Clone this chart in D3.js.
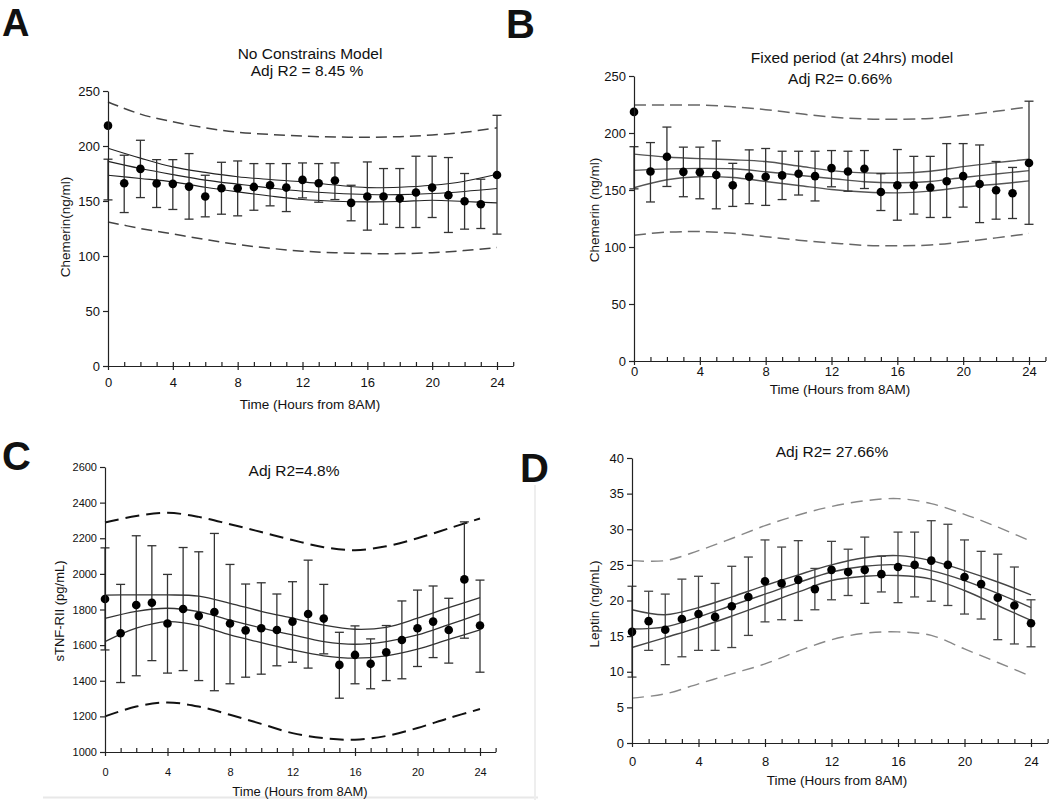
<!DOCTYPE html>
<html><head><meta charset="utf-8">
<script src="https://cdn.jsdelivr.net/npm/d3@7"></script>
<style>body{margin:0;background:#fff} text{font-family:"Liberation Sans",Arial,sans-serif;fill:#111}</style>
</head><body><svg id="c" width="1050" height="800"></svg>
<script>
// ---------- data ----------
const hours = [0,1,2,3,4,5,6,7,8,9,10,11,12,13,14,15,16,17,18,19,20,21,22,23,24];
const fitHours = [0,2,4,6,8,10,12,14,16,18,20,22,24];
const majorTicks = [0,4,8,12,16,20,24];
const minorTicks = [1,2,3,4,5,6,7,8,9,10,11,12,13,14,15,16,17,18,19,20,21,22,23,24,25];

const chemMean = [218.5,166.2,179.2,165.9,165.6,163.1,154.1,161.6,161.6,162.8,164.3,162.2,169.2,166.2,168.6,148.3,154.1,154.1,152.2,157.7,162.2,155.3,149.8,147.1,173.7];
const chemHi   = [188,191.6,205.2,187.6,187.6,193.1,173.4,185.2,186.4,184,184,184,184.6,184,184.6,164.3,185.5,179.5,179.5,190.7,190.7,189.5,175,169.8,227.9];
const chemLo   = [151,139.5,153.1,144.1,142.3,133.5,135.6,138,136.5,141.6,145.6,140.4,152.8,148.9,151.3,132,123.5,128.9,125.9,125.9,135,121.4,124.4,125,119.9];

const tnfMean = [1859,1667,1825,1838,1721,1803,1764,1786,1721,1683,1695,1685,1732,1775,1749,1489,1545,1495,1560,1629,1695,1732,1685,1969,1710];
const tnfHi   = [2146,1941,2214,2158,1997,2148,2124,2227,2053,1943,1950,1887,1956,2077,1941,1672,1708,1635,1710,1848,1909,1932,1863,2292,1965];
const tnfLo   = [1573,1390,1428,1513,1443,1457,1401,1344,1383,1420,1437,1484,1504,1471,1551,1302,1383,1355,1401,1411,1480,1530,1499,1639,1448];

const leptinMean = [15.6,17.1,15.9,17.4,18.1,17.7,19.2,20.5,22.7,22.4,22.9,21.6,24.3,24.0,24.3,23.7,24.7,25.0,25.6,25.0,23.3,22.3,20.4,19.3,16.8];
const leptinHi   = [22.0,21.3,20.9,23.0,23.4,22.4,24.8,26.1,28.5,27.5,28.4,24.5,28.3,27.2,28.9,26.2,29.6,29.6,31.2,30.7,28.5,26.9,26.5,24.7,20.1];
const leptinLo   = [9.25,13.0,11.0,12.1,13.0,13.0,13.4,15.1,17.0,17.3,17.2,18.7,20.1,20.7,19.6,21.2,19.7,20.5,19.9,19.3,18.1,17.4,14.5,13.9,13.5];

// fitted curves (values at fitHours)
const aPredHi = [240,229,222,216.5,212.5,210.5,209,208.2,208,208.5,210,212.5,216.5];
const aPredLo = [131,125,120,115,110.5,107,104.4,103,102.2,102.2,103,105,107.7];
const aFit    = [186,179.5,174,169,165.3,161.8,158.9,157,155.9,155.8,156.8,158.7,161.3];
const aConfHi = [198,189,181,176,172,169.5,167.4,164.5,162.2,162.5,164.3,168,174.3];
const aConfLo = [173.4,170.5,167.4,162.5,158.3,154.5,151.3,149.8,149.2,149.5,150.7,149.5,148.3];

const bPredHi = [224.5,224.5,224.5,223,220.5,217,214,212.3,212,212.8,215.5,219,223];
const bPredLo = [110.4,113,113.5,112,109,106,103.6,101.5,101,101.8,104.5,108,111.8];
const bFit    = [167.2,168.5,169,168.6,166,163,160.1,157.2,156.3,157.5,161,164,167];
const bConfHi = [181.5,179,177.5,176.5,175,171,167,165,164.8,166.5,170.5,174,177];
const bConfLo = [152,159,161.6,161,157.5,154,150.5,148.3,147.5,149,152.5,155,158];

const cPredHi = [2288,2325,2343,2320,2279,2235,2190,2150,2133,2155,2200,2255,2311];
const cPredLo = [1200,1255,1278,1255,1209,1158,1106,1078,1069,1090,1135,1190,1241];
const cFit    = [1750,1790,1807,1788,1741,1697,1657,1620,1605,1620,1657,1715,1775];
const cConfHi = [1881,1882,1882,1875,1835,1790,1751,1712,1689,1700,1751,1810,1866];
const cConfLo = [1620,1695,1732,1710,1657,1614,1573,1540,1527,1540,1577,1632,1685];

const dPredHi = [25.6,25.6,27.0,28.7,30.5,32.0,33.2,34.0,34.3,33.6,32.1,30.3,28.3];
const dPredLo = [6.3,6.9,8.3,9.7,11.1,12.9,14.5,15.4,15.6,15.1,13.2,11.3,9.35];
const dFit    = [16.0,16.3,17.7,19.3,20.9,22.5,24.0,24.8,25.0,24.2,22.8,21.0,19.0];
const dConfHi = [18.7,18.0,19.0,20.5,22.1,23.6,25.0,26.0,26.3,25.6,24.2,22.6,20.8];
const dConfLo = [13.4,14.8,16.2,17.8,19.5,21.2,22.8,23.4,23.5,23.0,21.4,19.3,17.2];

const ticksA = [0,50,100,150,200,250];
const ticksC = [1000,1200,1400,1600,1800,2000,2200,2400,2600];
const ticksD = [0,5,10,15,20,25,30,35,40];

// ---------- drawing ----------
const svg = d3.select("#c");

// faint frame lines of pasted panels
svg.append("line").attr("x1",43).attr("x2",538).attr("y1",797.5).attr("y2",797.5).attr("stroke","#e8e8e8").attr("stroke-width",2);
svg.append("line").attr("x1",535).attr("x2",535).attr("y1",485).attr("y2",800).attr("stroke","#eeeeee").attr("stroke-width",2);

function panel(cfg){
  const g = svg.append("g");
  const x = d3.scaleLinear().domain([0,25]).range([cfg.x0, cfg.x0 + (cfg.x24-cfg.x0)*25/24]);
  const y = d3.scaleLinear().domain(cfg.yDomain).range([cfg.yBottom, cfg.yTop]);
  const line = d3.line().x((d,i)=>x(fitHours[i])).y(d=>y(d)).curve(d3.curveCatmullRom.alpha(0.5));

  [cfg.predHi, cfg.predLo].forEach(arr=>{
    g.append("path").attr("d", line(arr)).attr("fill","none")
      .attr("stroke",cfg.dashColor).attr("stroke-width",cfg.dashWidth).attr("stroke-dasharray",cfg.dash);
  });
  [cfg.confHi, cfg.fit, cfg.confLo].forEach(arr=>{
    g.append("path").attr("d", line(arr)).attr("fill","none")
      .attr("stroke",cfg.lineColor).attr("stroke-width",cfg.lineWidth);
  });

  // error bars
  const eb = g.append("g").attr("stroke",cfg.barColor).attr("stroke-width",1.3);
  hours.forEach((h,i)=>{
    const xx = x(h);
    eb.append("line").attr("x1",xx).attr("x2",xx).attr("y1",y(cfg.hi[i])).attr("y2",y(cfg.lo[i]));
    eb.append("line").attr("x1",xx-4.5).attr("x2",xx+4.5).attr("y1",y(cfg.hi[i])).attr("y2",y(cfg.hi[i]));
    eb.append("line").attr("x1",xx-4.5).attr("x2",xx+4.5).attr("y1",y(cfg.lo[i])).attr("y2",y(cfg.lo[i]));
  });
  g.selectAll("circle.pt").data(cfg.mean).enter().append("circle")
    .attr("cx",(d,i)=>x(hours[i])).attr("cy",d=>y(d)).attr("r",4.3).attr("fill","#000");

  // axes
  const xa = g.append("g").attr("transform",`translate(0,${cfg.yBottom})`)
    .call(d3.axisBottom(x).tickValues(majorTicks).tickSizeInner(4).tickSizeOuter(0).tickFormat(d3.format("d")));
  xa.selectAll("text").attr("dy",null).attr("y",cfg.xLabOff).style("font-size",cfg.tickFont+"px").attr("fill","#111");
  const xm = g.append("g").attr("transform",`translate(0,${cfg.yBottom})`)
    .call(d3.axisBottom(x).tickValues(minorTicks).tickSizeInner(-4).tickSizeOuter(0).tickFormat(""));
  xm.select(".domain").remove();
  const ya = g.append("g").attr("transform",`translate(${cfg.x0},0)`)
    .call(d3.axisLeft(y).tickValues(cfg.yTicks).tickSizeInner(5).tickSizeOuter(0).tickPadding(3).tickFormat(d3.format("d")));
  ya.selectAll("text").style("font-size",cfg.tickFont+"px").attr("fill","#111");
  [xa,xm,ya].forEach(a=>{a.selectAll("line,path").attr("stroke","#222").attr("stroke-width",1.2);});

  // texts
  cfg.titles.forEach(t=>{
    g.append("text").attr("x",t[0]).attr("y",t[1]).attr("text-anchor","middle").style("font-size",t[3]+"px").text(t[2]);
  });
  g.append("text").attr("transform",`translate(${cfg.ylab[0]},${cfg.ylab[1]}) rotate(-90)`)
    .attr("text-anchor","middle").attr("dy","0.35em").style("font-size",cfg.ylab[3]+"px").text(cfg.ylab[2]);
  g.append("text").attr("x",cfg.xlab[0]).attr("y",cfg.xlab[1]).attr("text-anchor","middle")
    .style("font-size",cfg.xlab[2]+"px").text("Time (Hours from 8AM)");
  g.append("text").attr("x",cfg.letter[0]).attr("y",cfg.letter[1]).style("font-size",cfg.letter[3]+"px")
    .style("font-weight","bold").attr("fill","#000").text(cfg.letter[2]);
}

panel({x0:108,x24:497,yDomain:[0,250],yBottom:366,yTop:91,yTicks:ticksA,
  mean:chemMean,hi:chemHi,lo:chemLo,predHi:aPredHi,predLo:aPredLo,fit:aFit,confHi:aConfHi,confLo:aConfLo,
  dashColor:"#444",dashWidth:1.5,dash:"11,6",lineColor:"#222",lineWidth:1.1,barColor:"#333",
  tickFont:13,xLabOff:21,
  titles:[[310,59,"No Constrains Model",15.5],[307,76,"Adj R2 = 8.45 %",15.5]],
  ylab:[65,227,"Chemerin(ng/ml)",13.5],xlab:[310,409,13.5],letter:[2,36,"A",38]});

panel({x0:634,x24:1029,yDomain:[0,250],yBottom:361,yTop:76,yTicks:ticksA,
  mean:chemMean,hi:chemHi,lo:chemLo,predHi:bPredHi,predLo:bPredLo,fit:bFit,confHi:bConfHi,confLo:bConfLo,
  dashColor:"#666",dashWidth:1.5,dash:"12,6",lineColor:"#555",lineWidth:1.4,barColor:"#333",
  tickFont:13,xLabOff:15,
  titles:[[852,63,"Fixed period (at 24hrs) model",15.5],[840,84,"Adj R2= 0.66%",15.5]],
  ylab:[594,210,"Chemerin (ng/ml)",13.5],xlab:[840,394,13.5],letter:[506,38,"B",40]});

panel({x0:105,x24:480,yDomain:[1000,2600],yBottom:752,yTop:467,yTicks:ticksC,
  mean:tnfMean,hi:tnfHi,lo:tnfLo,predHi:cPredHi,predLo:cPredLo,fit:cFit,confHi:cConfHi,confLo:cConfLo,
  dashColor:"#111",dashWidth:2,dash:"14,7",lineColor:"#333",lineWidth:1.3,barColor:"#333",
  tickFont:11,xLabOff:24,
  titles:[[294,476,"Adj R2=4.8%",15.5]],
  ylab:[59,611,"sTNF-RII (pg/mL)",13],xlab:[300,796,13],letter:[2,470,"C",40]});

panel({x0:632,x24:1031,yDomain:[0,40],yBottom:743,yTop:458,yTicks:ticksD,
  mean:leptinMean,hi:leptinHi,lo:leptinLo,predHi:dPredHi,predLo:dPredLo,fit:dFit,confHi:dConfHi,confLo:dConfLo,
  dashColor:"#888",dashWidth:1.4,dash:"12,7",lineColor:"#444",lineWidth:1.4,barColor:"#444",
  tickFont:13,xLabOff:23,
  titles:[[832,457,"Adj R2= 27.66%",15.5]],
  ylab:[594,604,"Leptin (ng/mL)",13.5],xlab:[837,785,13.5],letter:[520,482,"D",40]});
</script></body></html>
